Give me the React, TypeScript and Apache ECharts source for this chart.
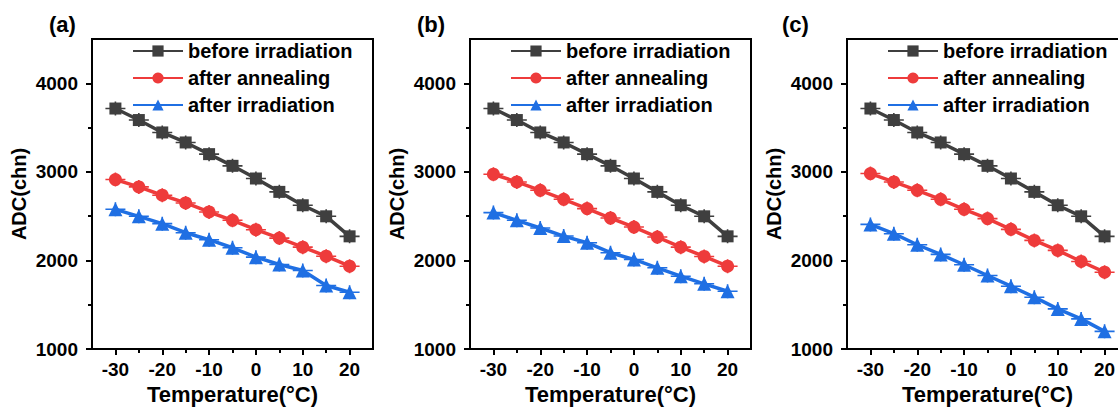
import React, { useEffect, useRef } from 'react';
import * as echarts from 'echarts';

const temperatures = [-30, -25, -20, -15, -10, -5, 0, 5, 10, 15, 20];
const panelLabels = ['(a)', '(b)', '(c)'];
const seriesNames = ['before irradiation', 'after annealing', 'after irradiation'];

const beforeA = [3715, 3585, 3445, 3332, 3200, 3068, 2925, 2774, 2623, 2498, 2272];
const annealA = [2913, 2830, 2736, 2649, 2547, 2453, 2347, 2252, 2150, 2048, 1935];
const irradA = [2577, 2498, 2415, 2313, 2234, 2143, 2037, 1954, 1886, 1717, 1641];

const beforeB = [3715, 3585, 3445, 3332, 3200, 3068, 2925, 2774, 2623, 2498, 2272];
const annealB = [2973, 2886, 2792, 2690, 2585, 2479, 2377, 2264, 2150, 2045, 1935];
const irradB = [2540, 2453, 2366, 2275, 2200, 2087, 2011, 1917, 1822, 1736, 1652];

const beforeC = [3715, 3585, 3445, 3332, 3200, 3068, 2925, 2774, 2623, 2498, 2272];
const annealC = [2981, 2886, 2792, 2690, 2577, 2472, 2351, 2226, 2113, 1988, 1867];
const irradC = [2407, 2302, 2177, 2068, 1951, 1830, 1709, 1585, 1453, 1340, 1199];

const xMajorTicks = [-30, -20, -10, 0, 10, 20];
const xMinorTicks = [-25, -15, -5, 5, 15];
const yMajorTicks = [1000, 2000, 3000, 4000];
const yMinorTicks = [1500, 2500, 3500];

const panels = [
  [beforeA, annealA, irradA],
  [beforeB, annealB, irradB],
  [beforeC, annealC, irradC],
];

const FONT = '"Liberation Sans", Arial, Helvetica, sans-serif';
const COLORS = ['#3f3f3f', '#ee3b3b', '#1f6fe3'];
const SYMBOLS = ['rect', 'circle', 'triangle'];
const SYMBOL_SIZES = [12, 13, 14];
const PLUS = 'path://M0,6.2H20V7.8H0Z M9.2,0H10.8V14H9.2Z';
const GRID_LEFT = [92, 470, 847];
const LABEL_LEFT = [44, 412, 777];

export default function App() {
  const ref = useRef<HTMLDivElement>(null);
  useEffect(() => {
    if (!ref.current) return;
    const chart = echarts.init(ref.current, null, { renderer: 'svg' });
    const grid: any[] = [];
    const xAxis: any[] = [];
    const yAxis: any[] = [];
    const series: any[] = [];
    const legend: any[] = [];
    const title: any[] = [];
    const black = '#000';
    const plain = (v: number) => String(v);
    panels.forEach((panel, p) => {
      grid.push({
        left: GRID_LEFT[p], top: 39, width: 281, height: 310,
        outerBoundsMode: 'none', containLabel: false,
        show: true, borderColor: black, borderWidth: 2, backgroundColor: 'transparent',
      });
      title.push({
        text: panelLabels[p], left: LABEL_LEFT[p], top: 8,
        textStyle: { fontSize: 22, fontWeight: 'bold', color: black, fontFamily: FONT },
      });
      legend.push({
        orient: 'vertical', left: GRID_LEFT[p] + 40, top: 41, padding: 0,
        itemWidth: 50, itemHeight: 14, itemGap: 7, selectedMode: false,
        data: seriesNames,
        textStyle: { fontSize: 20, fontWeight: 'bold', color: black, fontFamily: FONT },
      });
    });
    panels.forEach((_, p) => {
      xAxis.push({
        type: 'value', gridIndex: p, min: -35, max: 25, position: 'bottom',
        name: 'Temperature(°C)', nameLocation: 'middle', nameGap: 34,
        nameTextStyle: { fontSize: 22, fontWeight: 'bold', color: black, fontFamily: FONT },
        axisLine: { show: true, onZero: false, lineStyle: { color: black, width: 2 } },
        axisTick: { show: true, customValues: xMajorTicks, length: 6, lineStyle: { color: black, width: 2 } },
        axisLabel: { customValues: xMajorTicks, formatter: plain, fontSize: 19, fontWeight: 'bold', color: black, margin: 11, fontFamily: FONT },
        splitLine: { show: false },
      });
      yAxis.push({
        type: 'value', gridIndex: p, min: 1000, max: 4500, position: 'left',
        name: 'ADC(chn)', nameLocation: 'middle', nameGap: 63, nameRotate: 90,
        nameTextStyle: { fontSize: 20, fontWeight: 'bold', color: black, fontFamily: FONT },
        axisLine: { show: true, onZero: false, lineStyle: { color: black, width: 2 } },
        axisTick: { show: true, customValues: yMajorTicks, length: 6, lineStyle: { color: black, width: 2 } },
        axisLabel: { customValues: yMajorTicks, formatter: plain, fontSize: 19, fontWeight: 'bold', color: black, margin: 14, fontFamily: FONT },
        splitLine: { show: false },
      });
    });
    panels.forEach((_, p) => {
      xAxis.push({
        type: 'value', gridIndex: p, min: -35, max: 25, position: 'bottom',
        axisLine: { show: false, onZero: false },
        axisTick: { show: true, customValues: xMinorTicks, length: 4, lineStyle: { color: black, width: 2 } },
        axisLabel: { show: false },
        splitLine: { show: false },
      });
      yAxis.push({
        type: 'value', gridIndex: p, min: 1000, max: 4500, position: 'left',
        axisLine: { show: false, onZero: false },
        axisTick: { show: true, customValues: yMinorTicks, length: 4, lineStyle: { color: black, width: 2 } },
        axisLabel: { show: false },
        splitLine: { show: false },
      });
    });
    panels.forEach((panel, p) => {
      panel.forEach((vals, s) => {
        const data = temperatures.map((t, i) => [t, vals[i]]);
        series.push({
          type: 'scatter', name: 'err-' + p + '-' + s, xAxisIndex: p, yAxisIndex: p,
          data, symbol: PLUS, symbolSize: [20, 14], silent: true, z: 2,
          itemStyle: { color: COLORS[s], opacity: 1 },
        });
        series.push({
          type: 'line', name: seriesNames[s], xAxisIndex: p, yAxisIndex: p,
          data, symbol: SYMBOLS[s], symbolSize: SYMBOL_SIZES[s], showSymbol: true, z: 3,
          lineStyle: { color: COLORS[s], width: 3.5 },
          itemStyle: { color: COLORS[s], borderWidth: 0 },
        });
      });
    });
    chart.setOption({
      animation: false,
      backgroundColor: '#fff',
      textStyle: { fontFamily: FONT },
      title, legend, grid, xAxis, yAxis, series,
    });
    return () => chart.dispose();
  }, []);
  return (
    <div
      ref={ref}
      style={{ position: 'absolute', left: 0, top: 0, width: 1118, height: 407 }}
    />
  );
}
